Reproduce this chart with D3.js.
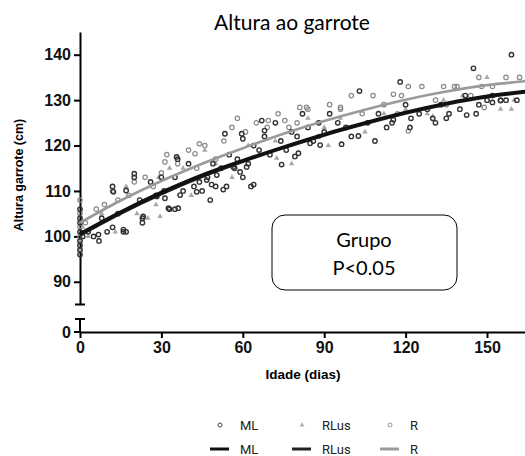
<!DOCTYPE html>
<html>
<head>
<meta charset="utf-8">
<script src="https://cdn.jsdelivr.net/npm/d3@7"></script>
<style>
  body { margin: 0; background: #fff; }
  svg { display: block; }
</style>
</head>
<body>
<svg id="chart" width="525" height="456"></svg>
<script>
// observed points [idade (dias), altura (cm)]
var ml_points = [[0,96],[0,97],[0,98],[0,99],[0,101],[0,103],[0,104],[0,106],[1,100],[3,101],[5,100],[7,99],
  [8,104],[10,101],[12,102],[12,111],[14,105],[16,101],[17,101],[20,113],[22,108],[23,104],[23,103],[26,112],
  [28,109],[30,113],[31,110],[33,106],[35,106],[35,113],[36,117],[38,110],[40,116],[42,111],[44,112],[45,110],
  [47,113],[48,108],[49,116],[50,111],[52,115],[54,111],[55,118],[57,115],[58,117],[60,113],[62,116],[63,111],
  [64,120],[66,119],[68,122],[70,118],[72,125],[74,121],[76,119],[78,123],[80,122],[82,127],[84,124],[86,121],
  [88,125],[90,123],[92,127],[95,125],[98,124],[100,122],[103,132],[106,125],[110,127],[113,124],[115,125],
  [118,134],[120,129],[122,126],[125,127],[128,128],[130,126],[133,129],[136,127],[140,128],[142,131],[145,137],
  [147,129],[150,130],[152,131],[155,130],[157,130],[159,140],[161,130],
  [121.6,124],[108.7,121],[102.6,122.1],[96.4,120.3],[115.5,125.7],[131,125],[135,126],[142.5,126.7],[146,127],
  [155,129.9],[152,129.5],[67,125.5],[68,123.3],[53.4,122.6],[59.6,122.6],[60,121.5],[35.6,117.5],[20,113.8],
  [12.3,109.8],[17,110.1],[16,101.5],[6.8,100.4],[23.3,104.4],[32.6,106.2],[36.2,106.2],[64,111.4],[52.8,110.3],
  [48.5,111.4],[74.3,115.8],[79.2,117.6],[80.5,118.3],[88.5,120.1],[84.8,120.5],[61.4,115.3],[59,114.2],
  [56.5,115.3],[50.4,113.5],[46.7,112.4],[43,109.8],[36.9,109.1],[31.3,108.4],[28.3,108.8]];
var rlus_points = [[0,97],[0,99],[1,102],[3,100],[8,105],[13,101],[17,111],[21,105],[25,104],[28,107],[29,113],
  [33,115],[38,115],[41,109],[46,119],[50,116],[56,113],[62,120],[66,118],[72,121],[78,116],[84,126],[90,124],
  [96,126],[105,123],[112,127],[120,128],[128,127],[134,130],[141,131],[150,135],[155,128],[160,130],
  [159,128],[91.5,120],[130,126.4],[72.5,117.2],[29.5,104.4]];
var r_points = [[0,100],[0,102],[0,105],[0,108],[2,103],[6,106],[9,107],[12,110],[14,108],[18,109],[20,112],
  [24,113],[27,111],[30,114],[32,118],[36,116],[40,119],[43,115],[46,120],[50,117],[53,121],[56,124],[58,126],
  [61,123],[65,125],[69,124],[73,127],[77,124],[80,125],[84,128],[88,122],[92,129],[96,128],[100,131],[104,127],
  [108,131],[112,129],[117,127],[121,133],[126,133],[131,130],[135,129],[139,133],[144,131],[148,133],[152,133],
  [157,135],[162,135],
  [134,133],[138,133],[147,135],[149,128.4],[115.5,131.3],[118.5,131],[96,128.4],[121,123.2],[81,128.4],
  [83.5,128.4],[69.4,125.5],[75.5,125.5],[44,120.4],[42.4,118.2],[31.3,116.4]];

// fitted curves
var curve_days = [0, 15, 30, 45, 60, 75, 90, 105, 120, 135, 150, 165];
var ml_fit   = [100.6, 105.4, 109.7, 113.5, 116.7, 119.7, 122.5, 125.0, 127.3, 129.3, 130.9, 132.0];
var rlus_fit = [100.3, 105.1, 109.4, 113.2, 116.5, 119.5, 122.3, 124.8, 127.1, 129.1, 130.7, 131.8];
var r_fit    = [103.0, 107.9, 112.2, 116.0, 119.4, 122.6, 125.4, 127.9, 130.1, 131.9, 133.3, 134.2];

var y_ticks = [90, 100, 110, 120, 130, 140];
var x_ticks = [0, 30, 60, 90, 120, 150];

var svg = d3.select('#chart');
var AXIS_Y = 332;
var AXIS_X = 80;

var x = d3.scaleLinear().domain([0, 164]).range([AXIS_X, 525]);
var y = d3.scaleLinear().domain([85, 145]).range([304.5, 32]);

// title
svg.append('text')
	.attr('x', 292).attr('y', 30)
	.attr('text-anchor', 'middle')
	.style('font-family', 'Lato, "Open Sans", sans-serif')
	.style('font-size', '21px')
	.text('Altura ao garrote');

// y axis (upper part, broken)
var y_axis = svg.append('g')
	.attr('transform', 'translate(' + AXIS_X + ',0)')
	.call(d3.axisLeft(y).tickValues(y_ticks).tickSize(6).tickSizeOuter(0).tickPadding(3));
y_axis.select('.domain').attr('stroke-width', 2);
y_axis.selectAll('.tick line').attr('stroke-width', 2);
y_axis.selectAll('text')
	.style('font-family', '"Liberation Sans", Arial, sans-serif')
	.style('font-size', '16px').style('font-weight', 'bold').attr('fill', '#111');
svg.append('line').attr('x1', AXIS_X - 5).attr('x2', AXIS_X + 5).attr('y1', y(85)).attr('y2', y(85))
	.attr('stroke', '#000').attr('stroke-width', 2);

// lower part of y axis with 0
svg.append('line').attr('x1', AXIS_X).attr('x2', AXIS_X).attr('y1', 319).attr('y2', AXIS_Y)
	.attr('stroke', '#000').attr('stroke-width', 2);
svg.append('line').attr('x1', AXIS_X - 5).attr('x2', AXIS_X + 5).attr('y1', 319).attr('y2', 319)
	.attr('stroke', '#000').attr('stroke-width', 2);
svg.append('line').attr('x1', AXIS_X - 6).attr('x2', AXIS_X).attr('y1', AXIS_Y).attr('y2', AXIS_Y)
	.attr('stroke', '#000').attr('stroke-width', 2);
svg.append('text').attr('x', AXIS_X - 9).attr('y', AXIS_Y + 6)
	.attr('text-anchor', 'end')
	.style('font-family', '"Liberation Sans", Arial, sans-serif')
	.style('font-size', '16px').style('font-weight', 'bold').attr('fill', '#111')
	.text('0');

// x axis
var x_axis = svg.append('g')
	.attr('transform', 'translate(0,' + AXIS_Y + ')')
	.call(d3.axisBottom(x).tickValues(x_ticks).tickSize(6).tickSizeOuter(0).tickPadding(4));
x_axis.select('.domain').attr('stroke-width', 2);
x_axis.selectAll('.tick line').attr('stroke-width', 2);
x_axis.selectAll('text')
	.style('font-family', '"Liberation Sans", Arial, sans-serif')
	.style('font-size', '16px').style('font-weight', 'bold').attr('fill', '#111');

// axis titles
svg.append('text')
	.attr('x', 303).attr('y', 379)
	.attr('text-anchor', 'middle')
	.style('font-family', '"Liberation Sans", Arial, sans-serif')
	.style('font-size', '13.5px').style('font-weight', 'bold')
	.text('Idade (dias)');
svg.append('text')
	.attr('transform', 'translate(23,175) rotate(-90)')
	.attr('text-anchor', 'middle')
	.style('font-family', '"Liberation Sans", Arial, sans-serif')
	.style('font-size', '12.5px').style('font-weight', 'bold')
	.text('Altura garrote (cm)');

// scatter
var pts = svg.append('g').attr('id', 'points');
pts.selectAll('.r').data(r_points).enter().append('circle')
	.attr('cx', function(d) { return x(d[0]); })
	.attr('cy', function(d) { return y(d[1]); })
	.attr('r', 2.2).attr('fill', 'none').attr('stroke', '#8a8a8a').attr('stroke-width', 1.2);
var tri = d3.symbol().type(d3.symbolTriangle).size(13);
pts.selectAll('.rlus').data(rlus_points).enter().append('path')
	.attr('d', tri)
	.attr('transform', function(d) { return 'translate(' + x(d[0]) + ',' + y(d[1]) + ')'; })
	.attr('fill', '#a8a8a8');
pts.selectAll('.ml').data(ml_points).enter().append('circle')
	.attr('cx', function(d) { return x(d[0]); })
	.attr('cy', function(d) { return y(d[1]); })
	.attr('r', 2.2).attr('fill', 'none').attr('stroke', '#333').attr('stroke-width', 1.4);

// curves
var line = d3.line()
	.x(function(d) { return x(d[0]); })
	.y(function(d) { return y(d[1]); })
	.curve(d3.curveMonotoneX);
function zip(vals) { return curve_days.map(function(d, i) { return [d, vals[i]]; }); }

svg.append('path').datum(zip(r_fit)).attr('d', line)
	.attr('fill', 'none').attr('stroke', '#9a9a9a').attr('stroke-width', 2.6);
svg.append('path').datum(zip(rlus_fit)).attr('d', line)
	.attr('fill', 'none').attr('stroke', '#1a1a1a').attr('stroke-width', 3.2);
svg.append('path').datum(zip(ml_fit)).attr('d', line)
	.attr('fill', 'none').attr('stroke', '#111').attr('stroke-width', 3.2);

// annotation box
svg.append('rect')
	.attr('x', 272).attr('y', 215).attr('width', 185).attr('height', 75)
	.attr('rx', 13).attr('ry', 13)
	.attr('fill', '#fff').attr('stroke', '#000').attr('stroke-width', 1);
svg.append('text').attr('x', 364).attr('y', 247).attr('text-anchor', 'middle')
	.style('font-family', 'Lato, "Open Sans", sans-serif').style('font-size', '20px')
	.text('Grupo');
svg.append('text').attr('x', 364).attr('y', 275).attr('text-anchor', 'middle')
	.style('font-family', 'Lato, "Open Sans", sans-serif').style('font-size', '20px')
	.text('P<0.05');

// legend
var legend_names = ['ML', 'RLus', 'R'];
var legend_x = [220, 302, 390];
var legend_line_col = ['#111', '#222', '#9a9a9a'];
var lg = svg.append('g').attr('id', 'legend');
legend_names.forEach(function(name, i) {
	var cx = legend_x[i];
	if(i == 1)
	{
		lg.append('path').attr('d', d3.symbol().type(d3.symbolTriangle).size(10))
			.attr('transform', 'translate(' + cx + ',425)').attr('fill', '#b0b0b0');
	}
	else
	{
		lg.append('circle').attr('cx', cx).attr('cy', 425).attr('r', 2)
			.attr('fill', 'none').attr('stroke', i == 0 ? '#444' : '#999').attr('stroke-width', 1);
	}
	lg.append('line').attr('x1', cx - 10).attr('x2', cx + 9).attr('y1', 449).attr('y2', 449)
		.attr('stroke', legend_line_col[i]).attr('stroke-width', 3);
	[430, 454].forEach(function(ty) {
		lg.append('text').attr('x', cx + 20).attr('y', ty)
			.style('font-family', 'Roboto, sans-serif').style('font-size', '13px').attr('fill', '#222')
			.text(name);
	});
});
</script>
</body>
</html>
